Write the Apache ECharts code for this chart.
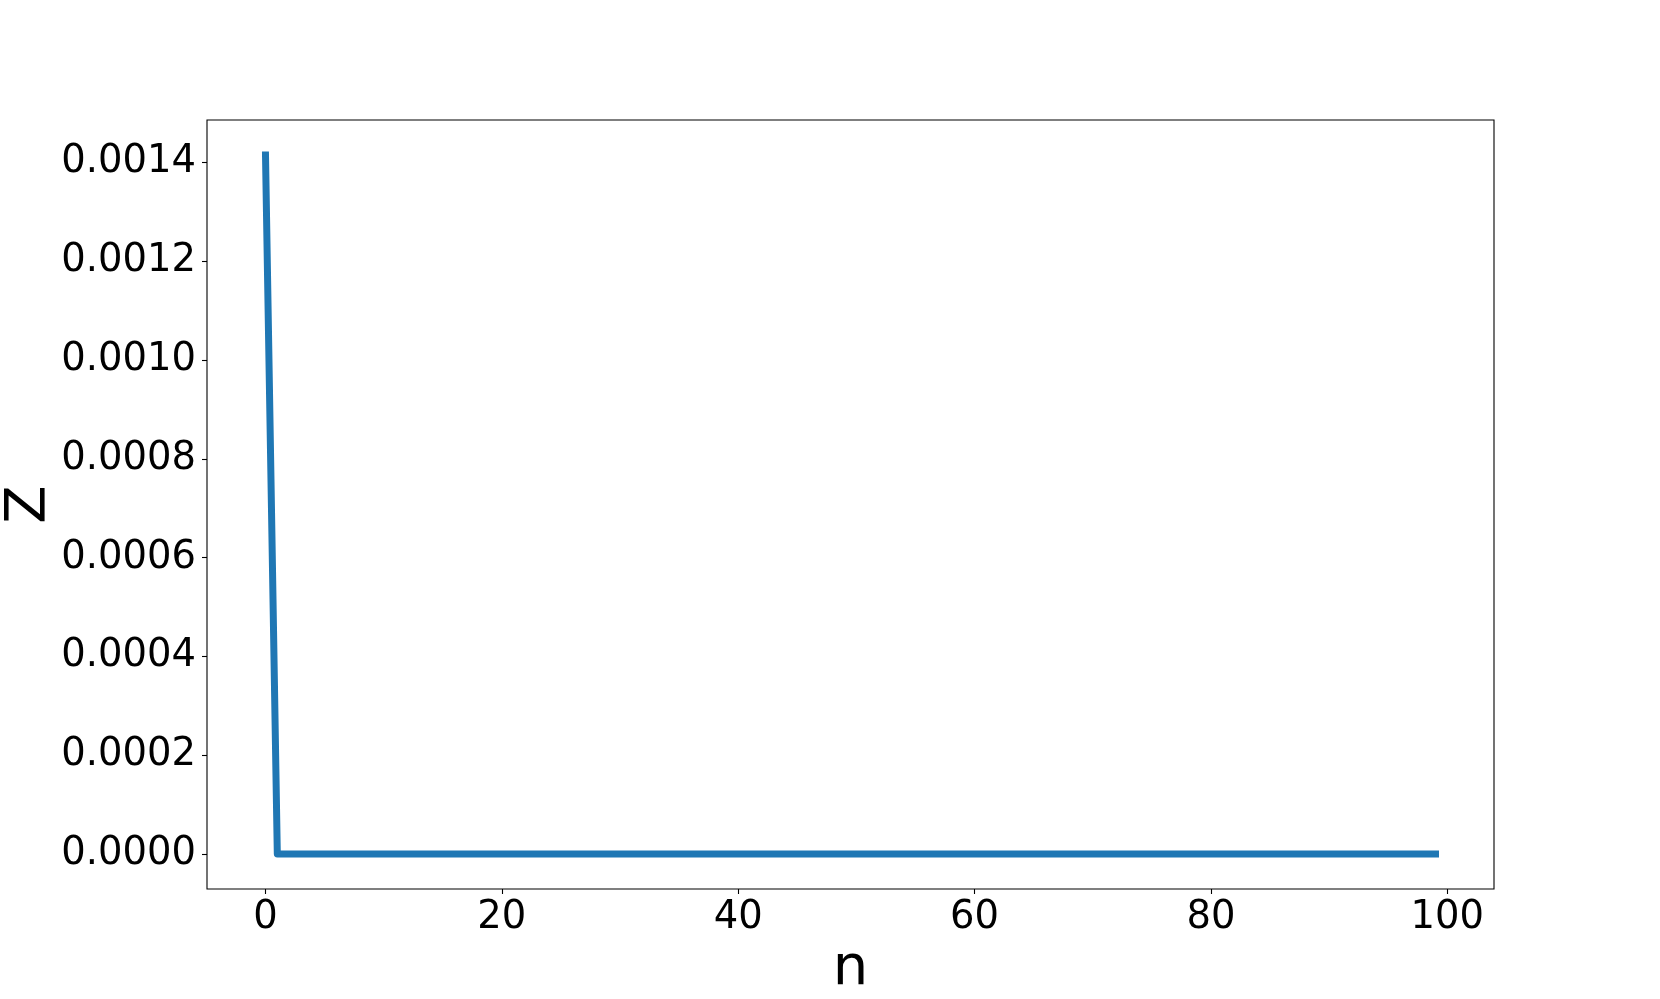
<!DOCTYPE html>
<html>
<head>
<meta charset="utf-8">
<script src="https://cdn.jsdelivr.net/npm/echarts@6/dist/echarts.min.js"></script>
<style>
html,body{margin:0;padding:0;background:#fff;}
#chart{width:1660px;height:999px;}
</style>
</head>
<body>
<div id="chart"></div>
<script>
// n values (x) and Z values (y)
const nValues = [
  0,1,2,3,4,5,6,7,8,9,10,11,12,13,14,15,16,17,18,19,
  20,21,22,23,24,25,26,27,28,29,30,31,32,33,34,35,36,37,38,39,
  40,41,42,43,44,45,46,47,48,49,50,51,52,53,54,55,56,57,58,59,
  60,61,62,63,64,65,66,67,68,69,70,71,72,73,74,75,76,77,78,79,
  80,81,82,83,84,85,86,87,88,89,90,91,92,93,94,95,96,97,98,99
];
const zValues = [
  0.001415,0,0,0,0,0,0,0,0,0,0,0,0,0,0,0,0,0,0,0,
  0,0,0,0,0,0,0,0,0,0,0,0,0,0,0,0,0,0,0,0,
  0,0,0,0,0,0,0,0,0,0,0,0,0,0,0,0,0,0,0,0,
  0,0,0,0,0,0,0,0,0,0,0,0,0,0,0,0,0,0,0,0,
  0,0,0,0,0,0,0,0,0,0,0,0,0,0,0,0,0,0,0,0
];
const xTicks = [0, 20, 40, 60, 80, 100];
const yTicks = [0, 0.0002, 0.0004, 0.0006, 0.0008, 0.0010, 0.0012, 0.0014];
const xName = 'n';
const yName = 'Z';

const FONT = 'DejaVu Sans';
const chart = echarts.init(document.getElementById('chart'), null, {renderer: 'canvas'});
const seriesData = nValues.map((n, i) => [n, zValues[i]]);

chart.setOption({
  animation: false,
  backgroundColor: '#fff',
  grid: {
    left: 207, right: 166, top: 120, bottom: 110,
    containLabel: false, outerBoundsMode: 'none',
    show: true, borderColor: '#000', borderWidth: 1.1, backgroundColor: 'transparent'
  },
  xAxis: {
    type: 'value',
    min: -4.95, max: 103.95,
    name: xName,
    nameLocation: 'middle',
    nameGap: 52,
    nameMoveOverlap: false,
    nameTextStyle: {fontFamily: FONT, fontSize: 56, color: '#000'},
    axisLine: {show: false, onZero: false},
    splitLine: {show: false},
    axisTick: {show: true, inside: false, length: 5, lineStyle: {color: '#000', width: 1.1}, customValues: xTicks},
    axisLabel: {show: true, margin: 9, fontFamily: FONT, fontSize: 38.5, color: '#000', customValues: xTicks,
      formatter: v => String(v)}
  },
  yAxis: {
    type: 'value',
    min: -0.00007075, max: 0.00148575,
    name: yName,
    nameLocation: 'middle',
    nameGap: 150,
    nameRotate: 90,
    nameMoveOverlap: false,
    nameTextStyle: {fontFamily: FONT, fontSize: 56, color: '#000'},
    axisLine: {show: false, onZero: false},
    splitLine: {show: false},
    axisTick: {show: true, inside: false, length: 5, lineStyle: {color: '#000', width: 1.1}, customValues: yTicks},
    axisLabel: {show: true, margin: 11, fontFamily: FONT, fontSize: 38.5, color: '#000', customValues: yTicks,
      formatter: v => Number(v).toFixed(4)}
  },
  series: [{
    type: 'line',
    data: seriesData,
    showSymbol: false,
    symbol: 'none',
    lineStyle: {color: '#1f77b4', width: 7, cap: 'square', join: 'round'},
    itemStyle: {color: '#1f77b4'}
  }]
});
</script>
</body>
</html>
